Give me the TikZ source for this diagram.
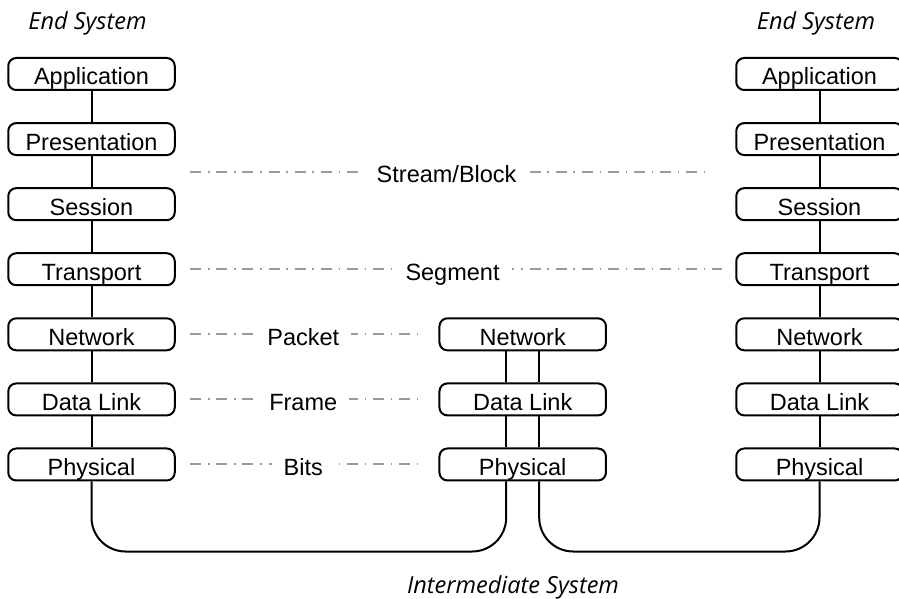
\documentclass[tikz,border=0pt]{standalone}
\usepackage{fontspec}
\setmainfont{Liberation Sans}
\newfontfamily\captionfont{Open Sans}
\usetikzlibrary{calc}

\definecolor{pduline}{HTML}{9A9A9A}

\tikzset{
  layer/.style={draw=black, line width=2pt, rounded corners=8pt,
    minimum width=166.5pt, minimum height=32pt, inner sep=0pt,
    text height=22pt, text depth=0pt,
    font=\fontsize{23.5}{28}\selectfont},
  wire/.style={draw=black, line width=2pt},
  peer/.style={draw=pduline, line width=2pt,
    dash pattern=on 11pt off 6.8pt on 1.5pt off 6.8pt},
  pdu/.style={fill=white, inner xsep=12pt, inner ysep=2pt,
    text height=22pt, text depth=0pt, pos=0.493,
    font=\fontsize{23.5}{28}\selectfont},
  syscap/.style={anchor=base, inner sep=0pt,
    font=\captionfont\itshape\fontsize{23.5}{28}\selectfont}
}

\begin{document}
\begin{tikzpicture}[x=1pt, y=-1pt]
  \useasboundingbox (0,0) rectangle (899,599);
  \clip (0,0) rectangle (899,599);

  % column centres and row pitch
  \def\xl{91.5}
  \def\xm{522.7}
  \def\xr{819.5}
  \def\ytop{74}
  \def\pitch{65.08}

  % left end system
  \foreach \i/\t in {1/Application,2/Presentation,3/Session,4/Transport,
                     5/Network,6/Data Link,7/Physical}
    \node[layer] (L\i) at (\xl, {\ytop+(\i-1)*\pitch}) {\t};
  % right end system
  \foreach \i/\t in {1/Application,2/Presentation,3/Session,4/Transport,
                     5/Network,6/Data Link,7/Physical}
    \node[layer] (R\i) at (\xr, {\ytop+(\i-1)*\pitch}) {\t};
  % intermediate system
  \foreach \i/\t in {5/Network,6/Data Link,7/Physical}
    \node[layer] (M\i) at (\xm, {\ytop+(\i-1)*\pitch}) {\t};

  % captions
  \node[syscap] (capL) at (87.5, 29.3) {End System};
  \node[syscap] (capR) at (816, 29.3) {End System};
  \node[syscap] (capM) at (513, 593.3) {Intermediate System};

  % stacks inside the end systems
  \foreach \i [evaluate=\i as \j using int(\i+1)] in {1,...,6} {
    \draw[wire] (L\i.south) -- (L\j.north);
    \draw[wire] (R\i.south) -- (R\j.north);
  }

  % relay paths through the intermediate system
  \foreach \s in {-16.5,16.5} {
    \draw[wire] ([xshift=\s pt]M5.south) -- ([xshift=\s pt]M6.north);
    \draw[wire] ([xshift=\s pt]M6.south) -- ([xshift=\s pt]M7.north);
  }

  % physical media
  \coordinate (base) at (0, 551.5);
  \coordinate (ml) at ([xshift=-16.5pt]M7.south);
  \coordinate (mr) at ([xshift=16.5pt]M7.south);
  \draw[wire, rounded corners=34pt]
    (L7.south) -- (L7.south |- base) -- (ml |- base) -- (ml);
  \draw[wire, rounded corners=34pt]
    (mr) -- (mr |- base) -- (R7.south |- base) -- (R7.south);

  % peer-to-peer protocol data units
  \coordinate (sbL) at ($(L2.east)!0.5!(L3.east)+(14.5,0)$);
  \coordinate (sbR) at ($(R2.west)!0.5!(R3.west)+(-25,0)$);
  \draw[peer] (sbL) -- node[pdu]{Stream/Block} (sbR);
  \draw[peer] ([xshift=14.5pt]L4.east) -- node[pdu]{Segment} ([xshift=-13pt]R4.west);
  \draw[peer] ([xshift=14.5pt]L5.east) -- node[pdu]{Packet} ([xshift=-19pt]M5.west);
  \draw[peer] ([xshift=14.5pt]L6.east) -- node[pdu]{Frame} ([xshift=-19pt]M6.west);
  \draw[peer] ([xshift=14.5pt]L7.east) -- node[pdu]{Bits} ([xshift=-19pt]M7.west);
\end{tikzpicture}
\end{document}
